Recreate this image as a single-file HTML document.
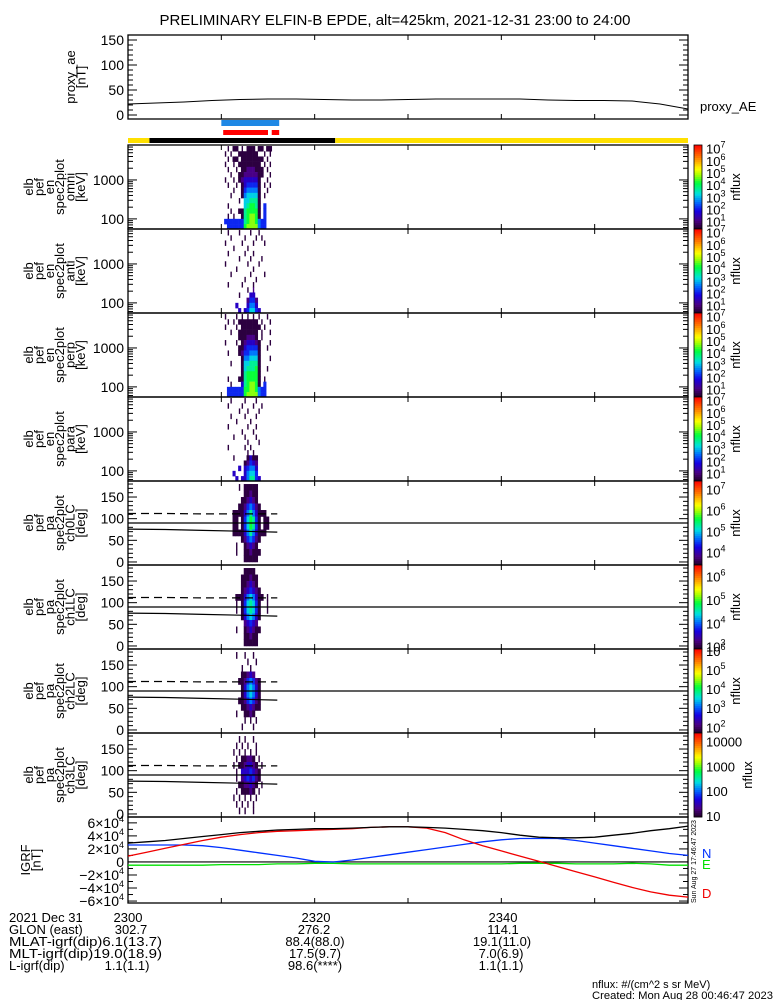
<!DOCTYPE html>
<html><head><meta charset="utf-8"><style>
html,body{margin:0;padding:0;background:#fff}
svg{display:block;font-family:"Liberation Sans",sans-serif}
</style></head><body>
<svg id="chart" width="775" height="1000" viewBox="0 0 775 1000" xmlns="http://www.w3.org/2000/svg">
<rect x="0" y="0" width="775" height="1000" fill="#fff"/>
<text x="395" y="25" font-size="15" text-anchor="middle">PRELIMINARY ELFIN-B EPDE, alt=425km, 2021-12-31 23:00 to 24:00</text>
<g id="marks"></g>
<g font-size="13">
<text x="9" y="922">2021 Dec 31</text>
<text x="128" y="922" text-anchor="middle">2300</text>
<text x="316" y="922" text-anchor="middle">2320</text>
<text x="503" y="922" text-anchor="middle">2340</text>
<text x="9" y="934">GLON (east)</text>
<text x="131" y="934" text-anchor="middle">302.7</text>
<text x="314" y="934" text-anchor="middle">276.2</text>
<text x="503" y="934" text-anchor="middle">114.1</text>
<text x="9" y="946" textLength="153" lengthAdjust="spacingAndGlyphs">MLAT-igrf(dip)6.1(13.7)</text>
<text x="315" y="946" text-anchor="middle">88.4(88.0)</text>
<text x="502" y="946" text-anchor="middle">19.1(11.0)</text>
<text x="9" y="958" textLength="153" lengthAdjust="spacingAndGlyphs">MLT-igrf(dip)19.0(18.9)</text>
<text x="315" y="958" text-anchor="middle">17.5(9.7)</text>
<text x="501" y="958" text-anchor="middle">7.0(6.9)</text>
<text x="9" y="970">L-igrf(dip)</text>
<text x="127" y="970" text-anchor="middle">1.1(1.1)</text>
<text x="315" y="970" text-anchor="middle">98.6(****)</text>
<text x="501" y="970" text-anchor="middle">1.1(1.1)</text>
</g>
<text x="592" y="988" font-size="11">nflux: #/(cm^2 s sr MeV)</text>
<text x="592" y="999" font-size="11" textLength="181" lengthAdjust="spacingAndGlyphs">Created: Mon Aug 28 00:46:47 2023</text>
</svg>
<script>
// ---------- data ----------
const aeTimes=[0,3,6,9,12,15,18,21,24,27,30,33,36,39,42,45,48,51,54,57,60];
const aeValues=[22,24,26,29,31,32,32,31,30,30,31,32,32,32,32,30,29,29,28,22,12];
const igrfTimes=[0,2,4,6,8,10,12,14,16,18,20,22,24,26,28,30,32,34,36,38,40,42,44,46,48,50,52,54,56,58,60];
const igrfTotal=[29,31,33,36,39,42,45,47,49,50,51,51,52,53,54,54,53,52,50,48,45,41,38,37,37,38,41,44,48,51,55];
const igrfD=[9,15,21,27,33,38,42,45,47,48,49,50,51,53,54,54,52,45,34,25,17,9,1,-7,-15,-23,-31,-39,-46,-51,-54];
const igrfN=[26,26,26,26,25,22,18,14,10,6,1,0,3,7,11,15,19,23,27,31,34,36,36,36,33,29,25,21,17,13,10];
const igrfE=[-5,-5,-5,-5,-5,-4,-4,-4,-3,-3,-2,-2,-3,-3,-3,-3,-3,-3,-3,-3,-3,-2,-2,-2,-3,-3,-3,-2,-3,-5,-5];
const specStart=10.0, specStep=0.3;
const energies=[63,86,117,159,216,294,400,544,740,1006,1369,1862,2532,3444,4684,6371];
const pitchAngles=[7.5,22.5,37.5,52.5,67.5,82.5,97.5,112.5,127.5,142.5,157.5,172.5];
const lcTimes=[0,4,8,12,16];
const lossCone=[76,75,73,71,69];
const antiLossCone=[112,112,111,111,111];
const blueBar=[10.0,16.2];
const redBars=[[10.2,15.0],[15.4,16.2]];
const dayNight=[[0,2.3,'#ffe000'],[2.3,22.2,'#000'],[22.2,60,'#ffe000']];
// rows listed from highest energy / pitch angle down; digit = color level (0 empty)
const specOmni=["00101101011101101100","01010011111110010100","00101101111111101000","01001011111111010100","00100101122211101000","00010011222221100100","01001012333331001000","00100101344441010100","00001001455551001000","00010001566661010000","00000010667771000000","00100000678871040000","00010011788881040000","00101001789981040000","04444444789985440000","00444444899995440000"];
const specAnti=["00100010001001000000","00010000100010100000","01000001000100010000","00001000010000000000","00100000100100000000","00000010001000100000","01000000010001000000","00000100000100000000","00010000001000010000","00000000100010000000","00100001000100000000","00000000010200000000","00000010003300000000","00000000024420000000","00000300035530000000","00000030346643000000"];
const specPerp=["01000101010101001000","00101011111110100100","01000101111111010000","00010011111110100100","00000011122210100000","01000101233321000100","00000011344441001000","00100012445551000000","00000001556661000100","00010001667771000000","00000001677781001000","00000001788881000000","00100011788881010000","00010003789981040000","00444444889985440000","00444444899995440000"];
const specPara=["00010000100010000000","00100001000100100000","00000010010001000000","00010000100010000000","00000100001000000000","00100000010010000000","00000001000100000000","00001000100010000000","00000000010001000000","00100000101000000000","00000000010100000000","00001000013110000000","00000000124320000000","00000030345530000000","00003000356640000000","00000303357743000000"];
const paCh0=["00000010111110000000","00000000112110000000","00000001123210000000","00000011245421000000","00001111357531110000","00001101468741011000","00001101468741011000","00001111357531110000","00000001245421000000","00000100123210000000","00000100112111000000","00000000111110000000"];
const paCh1=["00000000111100000000","00000001112110000000","00000001123210000000","00000001234321000000","00000111356531101000","00000101467641001000","00000101467641001000","00000001356531000000","00000000234320000000","00000100123211000000","00000000112110000000","00000000111110000000"];
const paCh2=["00000100100100000000","00000000010010000000","00000001001000000000","00000001123200000000","00000011245421000000","00000001356531000000","00000001356531000000","00000011245421000000","00000001123211000000","00000100112100000000","00000000101010000000","00000001000100000000"];
const paCh3=["00000010100100000000","00000101010010000000","00001010101010000000","00000101122101000000","00001011233210100000","00000103334321000000","00000102343421000000","00000011223210100000","00000101112101000000","00001010101010000000","00000101010100000000","00000010100100000000"];
const cbEnergyTicks=[7,6,5,4,3,2,1];
const cbCh0Ticks=[7,6,5,4];
const cbCh1Ticks=[6,5,4,3];
const cbCh2Ticks=[6,5,4,3,2];
const cbCh3Ticks=[4,3,2,1];
const aeTicks=[0,50,100,150];
const enTicks=[100,1000];
const paTicks=[0,50,100,150];
const igrfTicks=[-6,-4,-2,0,2,4,6];
// ---------- layout ----------
const NS='http://www.w3.org/2000/svg';
const X0=128,X1=688;
const xT=t=>X0+t*(X1-X0)/60;
const marks=document.getElementById('marks');
function mk(tag,attrs,parent){const e=document.createElementNS(NS,tag);for(const k in attrs)e.setAttribute(k,attrs[k]);(parent||marks).appendChild(e);return e;}
const stops=[[0,[30,0,35]],[0.1,[75,0,130]],[0.22,[20,0,230]],[0.32,[0,110,255]],[0.42,[0,225,225]],[0.55,[0,255,60]],[0.65,[170,255,0]],[0.72,[255,255,0]],[0.85,[255,128,0]],[1,[255,0,0]]];
function cmap(f){f=Math.max(0,Math.min(1,f));for(let i=1;i<stops.length;i++){if(f<=stops[i][0]){const a=stops[i-1],b=stops[i];const u=(f-a[0])/(b[0]-a[0]);const c=a[1].map((v,j)=>Math.round(v+(b[1][j]-v)*u));return 'rgb('+c.join(',')+')';}}return 'rgb(255,0,0)';}
const lvColor=lv=>cmap(0.03+(lv-1)*0.075);
function frame(top,h,name){
  const r=mk('rect',{x:X0,y:top,width:X1-X0,height:h,fill:'none',stroke:'#000','stroke-width':1.3});
  
  
  for(let t=10;t<60;t+=10){
    const a=mk('line',{x1:xT(t),x2:xT(t),y1:top,y2:top+5,stroke:'#000'});
    
    
    const b=mk('line',{x1:xT(t),x2:xT(t),y1:top+h-5,y2:top+h,stroke:'#000'});
    
    
  }
}
function ytick(y,len,name){
  const a=mk('line',{x1:X0,x2:X0+len,y1:y,y2:y,stroke:'#000'});
  
  
  const b=mk('line',{x1:X1-len,x2:X1,y1:y,y2:y,stroke:'#000'});
  
  
}
function ylabel(txt,y,name){
  const t=mk('text',{x:124,y:y+5,'font-size':14,'text-anchor':'end'});
  t.textContent=txt;
  
  
  return t;
}
function sideTitle(lines,x0,cy,name){
  const t=mk('text',{transform:'translate('+x0+','+cy+') rotate(-90)','font-size':13,'text-anchor':'middle'});
  
  
  lines.forEach((s,i)=>{const sp=mk('tspan',{x:0,y:i*10.4},t);sp.textContent=s;});
}
// ---------- proxy AE panel ----------
const aeTop=35,aeH=84;
const yAE=v=>aeTop+aeH-(v+8)/(168)*aeH;
frame(aeTop,aeH,'proxy-ae-panel');
for(let v=0;v<=160;v+=10)ytick(yAE(v),v%50===0?9:5,'ae-y-tick');
aeTicks.forEach(v=>ylabel(String(v),yAE(v),'ae-y-tick-label'));
let d='';aeTimes.forEach((t,i)=>{d+=(i?'L':'M')+xT(t).toFixed(1)+','+yAE(aeValues[i]).toFixed(1);});
const aeLine=mk('path',{d:d,fill:'none',stroke:'#000','stroke-width':1});


sideTitle(['proxy_ae','[nT]'],75,77,'proxy-ae-axis-title');
const aeLab=mk('text',{x:700,y:111,'font-size':13});
aeLab.textContent='proxy_AE';


// ---------- bars ----------
const bb=mk('rect',{x:xT(blueBar[0]),y:120,width:xT(blueBar[1])-xT(blueBar[0]),height:6,fill:'#1e88e5'});


redBars.forEach(r=>{const e=mk('rect',{x:xT(r[0]),y:130,width:xT(r[1])-xT(r[0]),height:5,fill:'#f00'});

});
dayNight.forEach(r=>{const e=mk('rect',{x:xT(r[0]),y:138,width:xT(r[1])-xT(r[0]),height:5,fill:r[2]});

});
// ---------- spectrograms ----------
const tops=[145,229,313,397,481,565,649,733],PH=84;
function binEdges(arr,i,geo){
  const n=arr.length,c=arr[i];
  const mid=(a,b)=>geo?Math.sqrt(a*b):(a+b)/2;
  const lo=i>0?mid(arr[i-1],c):(geo?c*c/mid(arr[1],c):2*c-mid(arr[1],c));
  const hi=i<n-1?mid(arr[i+1],c):(geo?c*c/mid(arr[i-1],c):2*c-mid(arr[i-1],c));
  return [lo,hi];
}
function drawCells(rows,top,yFn,binsArr,geo,name){
  const n=binsArr.length;
  rows.forEach((row,r)=>{
    const bi=n-1-r;
    const ed=binEdges(binsArr,bi,geo);
    const y1=Math.max(top,yFn(ed[1])),y2=Math.min(top+PH,yFn(ed[0]));
    for(let i=0;i<row.length;i++){
      const lv=+row[i];if(!lv)continue;
      const t=specStart+i*specStep;
      const xa=xT(t),xb=xT(t+specStep);
      const iso=lv<=2&&(+row[i-1]||0)===0&&(+row[i+1]||0)===0;
      const e=mk('rect',{x:(iso?xa+0.7:xa).toFixed(2),y:y1.toFixed(2),width:(iso?1.4:xb-xa+0.3).toFixed(2),height:(y2-y1+0.3).toFixed(2),fill:lvColor(lv)});
      
      
    }
  });
}
const enSets=[[specOmni,'omni'],[specAnti,'anti'],[specPerp,'perp'],[specPara,'para']];
enSets.forEach((s,k)=>{
  const top=tops[k];
  const yE=v=>top+PH-(Math.log10(v)-Math.log10(55))/(Math.log10(7900)-Math.log10(55))*PH;
  drawCells(s[0],top,yE,energies,true,'spec-'+s[1]);
  frame(top,PH,'spec-'+s[1]+'-panel');
  [60,70,80,90,100,200,300,400,500,600,700,800,900,1000,2000,3000,4000,5000,6000,7000].forEach(v=>ytick(yE(v),(v===100||v===1000)?9:5,'energy-y-tick'));
  enTicks.forEach(v=>ylabel(String(v),yE(v),'energy-y-tick-label'));
  sideTitle(['elb','pef','en','spec2plot',s[1],'[keV]'],33,top+PH/2,'spec-'+s[1]+'-axis-title');
});
const paSets=[[paCh0,'ch0LC'],[paCh1,'ch1LC'],[paCh2,'ch2LC'],[paCh3,'ch3LC']];
paSets.forEach((s,k)=>{
  const top=tops[4+k];
  const yP=v=>top+PH-(v+7)/194*PH;
  drawCells(s[0],top,yP,pitchAngles,false,'pa-'+s[1]);
  frame(top,PH,'pa-'+s[1]+'-panel');
  for(let v=0;v<=180;v+=10)ytick(yP(v),v%50===0?9:5,'pa-y-tick');
  paTicks.forEach(v=>ylabel(String(v),yP(v),'pa-y-tick-label'));
  const h=mk('line',{x1:X0,x2:X1,y1:yP(90),y2:yP(90),stroke:'#000','stroke-width':1.2});
  
  
  let p='',q='';
  lcTimes.forEach((t,i)=>{p+=(i?'L':'M')+xT(t).toFixed(1)+','+yP(lossCone[i]).toFixed(1);q+=(i?'L':'M')+xT(t).toFixed(1)+','+yP(antiLossCone[i]).toFixed(1);});
  const lc=mk('path',{d:p,fill:'none',stroke:'#000','stroke-width':1.2});
  
  
  const alc=mk('path',{d:q,fill:'none',stroke:'#000','stroke-width':1.2,'stroke-dasharray':'8,5'});
  
  
  sideTitle(['elb','pef','pa','spec2plot',s[1],'[deg]'],33,top+PH/2,'pa-'+s[1]+'-axis-title');
});
// ---------- colorbars ----------
const cbSpecs=[[0.4,7.3,cbEnergyTicks,true],[0.4,7.3,cbEnergyTicks,true],[0.4,7.3,cbEnergyTicks,true],[0.4,7.3,cbEnergyTicks,true],[3.4,7.4,cbCh0Ticks,true],[2.9,6.5,cbCh1Ticks,true],[1.7,6.1,cbCh2Ticks,true],[0.95,4.35,cbCh3Ticks,false]];
cbSpecs.forEach((c,k)=>{
  const top=tops[k];
  const g=mk('g',{});
  
  
  const N=40;
  for(let i=0;i<N;i++){mk('rect',{x:694,y:(top+PH-(i+1)*PH/N).toFixed(2),width:8,height:(PH/N+0.4).toFixed(2),fill:cmap((i+0.5)/N)},g);}
  mk('rect',{x:694,y:top,width:8,height:PH,fill:'none',stroke:'#000','stroke-width':0.8},g);
  const yc=v=>top+PH-(v-c[0])/(c[1]-c[0])*PH;
  c[2].forEach(e=>{
    const t=mk('text',{x:706,y:(yc(e)+5).toFixed(1),'font-size':13},g);
    if(c[3]){t.textContent='10';const sp=mk('tspan',{dy:-6,'font-size':9},t);sp.textContent=String(e);}
    else t.textContent=String(Math.pow(10,e));
    
    
  });
  const nf=mk('text',{transform:'translate('+(c[3]?740:752)+','+(top+PH/2)+') rotate(-90)','font-size':13,'text-anchor':'middle'},g);
  nf.textContent='nflux';
  
  
});
// ---------- IGRF panel ----------
const gTop=817,gH=86;
const yG=v=>gTop+gH-(v+63)/132*gH;
frame(gTop,gH,'igrf-panel');
for(let v=-60;v<=60;v+=10)ytick(yG(v),v%20===0?9:5,'igrf-y-tick');
igrfTicks.forEach(v=>{const t=ylabel('',yG(v*10),'igrf-y-tick-label');
  if(v===0){t.textContent='0';}else{t.textContent=(v<0?'\u2212':'')+Math.abs(v)+'\u00d710';const sp=mk('tspan',{dy:-6,'font-size':9},t);sp.textContent='4';}});
const z=mk('line',{x1:X0,x2:X1,y1:yG(0),y2:yG(0),stroke:'#000','stroke-width':1.2});


function stepLine(vals,color,name){
  let p='';igrfTimes.forEach((t,i)=>{p+=(i?'L':'M')+xT(t).toFixed(1)+','+yG(vals[i]).toFixed(1);});
  const e=mk('path',{d:p,fill:'none',stroke:color,'stroke-width':1.3});
  
  
}
stepLine(igrfE,'#00e000','igrf-e-line');
stepLine(igrfN,'#0030ff','igrf-n-line');
stepLine(igrfD,'#f00000','igrf-d-line');
stepLine(igrfTotal,'#000','igrf-total-line');
sideTitle(['IGRF','[nT]'],30,860,'igrf-axis-title');
[['N','#0030ff',858,'legend-n'],['E','#00e000',869,'legend-e'],['D','#f00000',898,'legend-d']].forEach(l=>{
  const t=mk('text',{x:702,y:l[2],'font-size':13,fill:l[1]});
  t.textContent=l[0];
  
  
});
const ts=mk('text',{transform:'translate(696,903) rotate(-90)','font-size':7});
ts.textContent='Sun Aug 27 17:46:47 2023';


</script>
</body></html>
